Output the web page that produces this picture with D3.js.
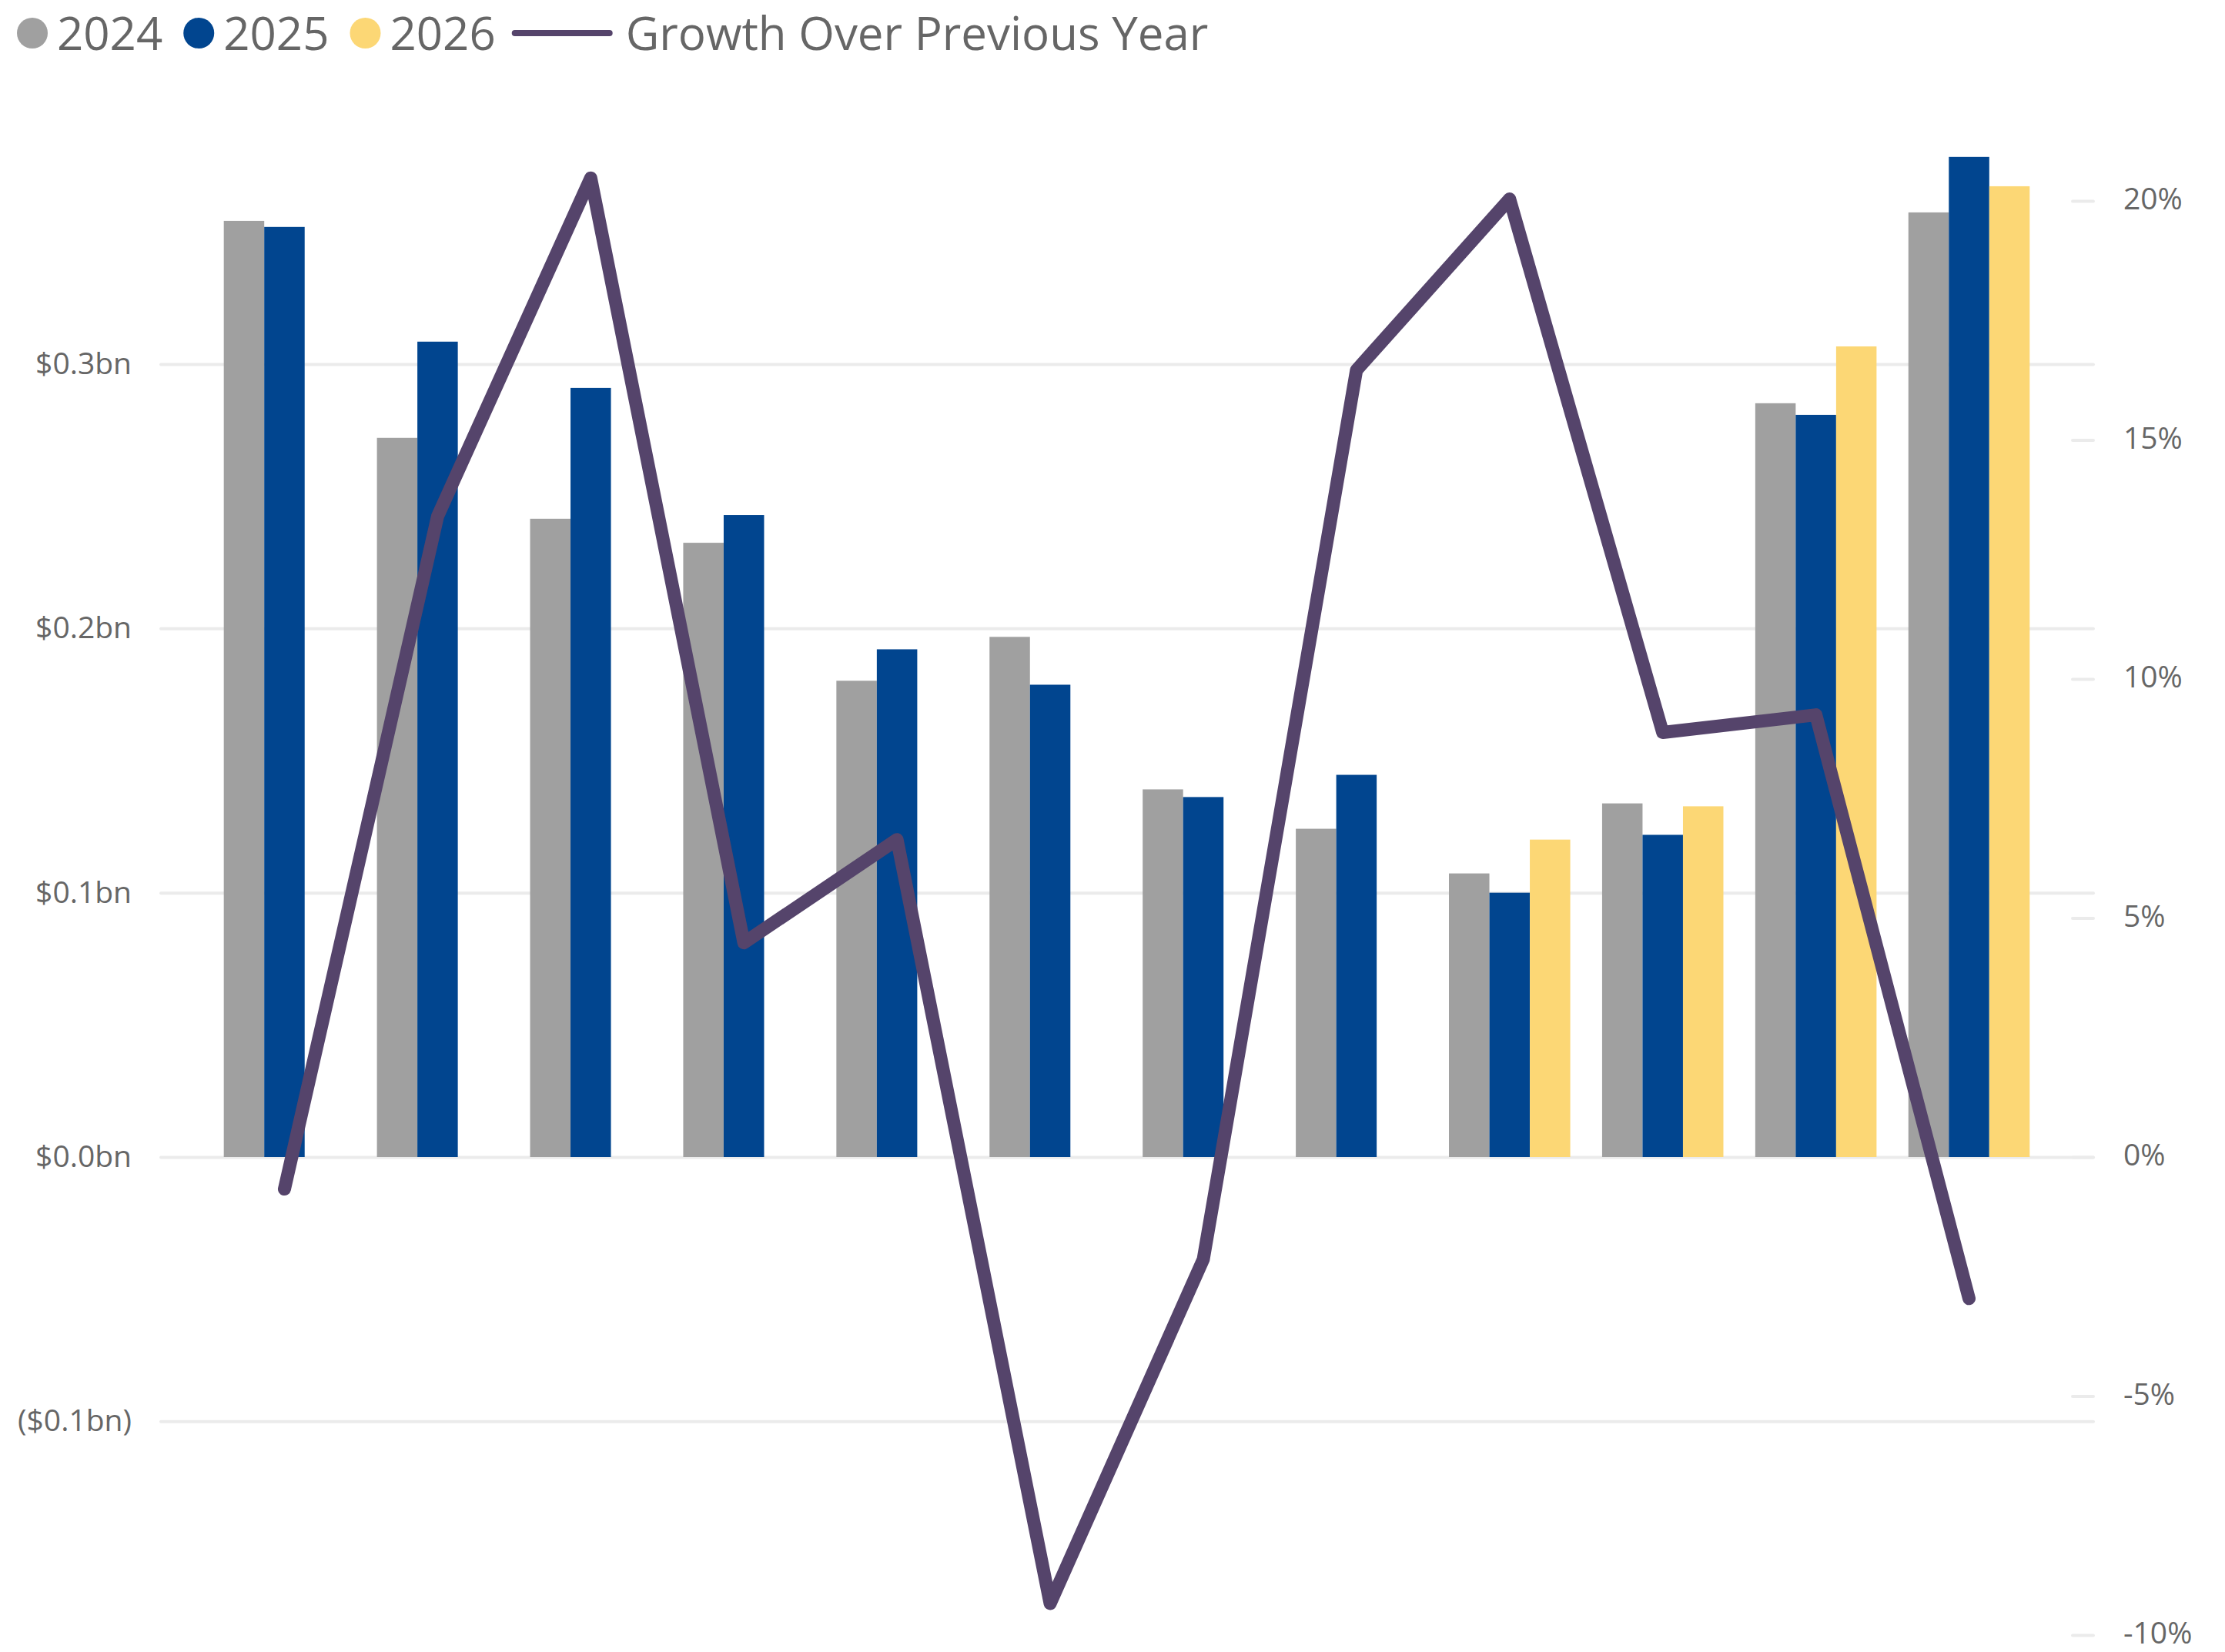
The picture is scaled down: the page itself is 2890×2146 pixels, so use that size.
<!DOCTYPE html>
<html>
<head>
<meta charset="utf-8">
<script src="https://cdn.jsdelivr.net/npm/d3@7/dist/d3.min.js"></script>
<style>
  html, body { margin: 0; padding: 0; background: #ffffff; }
  svg { display: block; }
  text { font-family: "Segoe UI", "Open Sans", "Noto Sans", sans-serif; }
</style>
</head>
<body>
<script>
// ---- Data ----
const categories = ["P1","P2","P3","P4","P5","P6","P7","P8","P9","P10","P11","P12"];
const seriesNames = ["2024", "2025", "2026"];
const values2024 = [0.3542, 0.2721, 0.2415, 0.2324, 0.1802, 0.1968, 0.1391, 0.1242, 0.1073, 0.1338, 0.2852, 0.3574];
const values2025 = [0.3519, 0.3085, 0.2910, 0.2429, 0.1921, 0.1787, 0.1362, 0.1446, 0.1000, 0.1219, 0.2808, 0.3784];
const values2026 = [null, null, null, null, null, null, null, null, 0.1201, 0.1327, 0.3067, 0.3673];
const growthPct  = [-0.67, 13.40, 20.48, 4.48, 6.64, -9.34, -2.14, 16.46, 20.04, 8.88, 9.25, -2.96];
const leftTicks  = [-0.1, 0, 0.1, 0.2, 0.3];
const rightTicks = [-10, -5, 0, 5, 10, 15, 20];
const lineName = "Growth Over Previous Year";

const colors = { "2024": "#A0A0A0", "2025": "#01458F", "2026": "#FCD775" };
const lineColor = "#55446B";
const gridColor = "#EBEBEB";
const textColor = "#666666";

// ---- Layout ----
const W = 2890, H = 2146;
const svg = d3.select("body").append("svg").attr("width", W).attr("height", H);

const gridX0 = 209, gridX1 = 2719;
const x = d3.scaleBand().domain(categories).range([270, 2657]).paddingInner(0.208).paddingOuter(0.104);
const xSub = d3.scaleBand().domain(seriesNames).range([0, x.bandwidth()]);
const yL = d3.scaleLinear().domain([0, 0.3]).range([1503, 473]);
const yR = d3.scaleLinear().domain([0, 20]).range([1503, 261]);

// Left axis with gridlines
const fmtLeft = v => {
  const s = "$" + Math.abs(v).toFixed(1) + "bn";
  return v < 0 ? "(" + s + ")" : s;
};
const gL = svg.append("g").attr("transform", `translate(${gridX0},0)`)
  .call(d3.axisLeft(yL).tickValues(leftTicks).tickFormat(fmtLeft)
        .tickSize(-(gridX1 - gridX0)).tickPadding(38));
gL.select(".domain").remove();
gL.selectAll(".tick line").attr("stroke", gridColor).attr("stroke-width", 4).attr("stroke-linecap", "round");
gL.selectAll(".tick text").attr("fill", textColor).attr("font-size", 39)
  .style("font-family", '"Segoe UI", "Open Sans", "Noto Sans", sans-serif');

// Right axis with short tick marks
const gR = svg.append("g").attr("transform", `translate(2692,0)`)
  .call(d3.axisRight(yR).tickValues(rightTicks).tickFormat(d => d + "%")
        .tickSize(27).tickPadding(39));
gR.select(".domain").remove();
gR.selectAll(".tick line").attr("stroke", gridColor).attr("stroke-width", 4).attr("stroke-linecap", "round");
gR.selectAll(".tick text").attr("fill", textColor).attr("font-size", 39).attr("dy", "0.28em")
  .style("font-family", '"Segoe UI", "Open Sans", "Noto Sans", sans-serif');

// Bars
const seriesData = { "2024": values2024, "2025": values2025, "2026": values2026 };
const barData = [];
categories.forEach((c, i) => {
  seriesNames.forEach(s => {
    const v = seriesData[s][i];
    if (v !== null && v !== undefined) barData.push({ cat: c, series: s, value: v });
  });
});
svg.append("g").selectAll("rect").data(barData).join("rect")
  .attr("x", d => x(d.cat) + xSub(d.series))
  .attr("width", xSub.bandwidth())
  .attr("y", d => Math.min(yL(d.value), yL(0)))
  .attr("height", d => Math.abs(yL(0) - yL(d.value)))
  .attr("fill", d => colors[d.series]);

// Line
const line = d3.line()
  .x((d, i) => x(categories[i]) + x.bandwidth() / 2)
  .y(d => yR(d));
svg.append("path").datum(growthPct)
  .attr("d", line)
  .attr("fill", "none")
  .attr("stroke", lineColor)
  .attr("stroke-width", 17)
  .attr("stroke-linejoin", "round")
  .attr("stroke-linecap", "round");

// Legend
const legend = svg.append("g");
let lx = 22;
const ly = 43;
seriesNames.forEach(s => {
  legend.append("circle").attr("cx", lx + 20).attr("cy", ly).attr("r", 20).attr("fill", colors[s]);
  const t = legend.append("text").attr("x", lx + 52).attr("y", ly).attr("dy", "0.36em")
    .attr("font-size", 60).attr("fill", textColor).text(s);
  lx = lx + 52 + t.node().getComputedTextLength() + 27;
});
lx -= 6;
legend.append("line").attr("x1", lx + 4).attr("x2", lx + 127).attr("y1", ly).attr("y2", ly)
  .attr("stroke", lineColor).attr("stroke-width", 8).attr("stroke-linecap", "round");
legend.append("text").attr("x", lx + 148).attr("y", ly).attr("dy", "0.36em")
  .attr("font-size", 60).attr("fill", textColor).text(lineName);
</script>
</body>
</html>
